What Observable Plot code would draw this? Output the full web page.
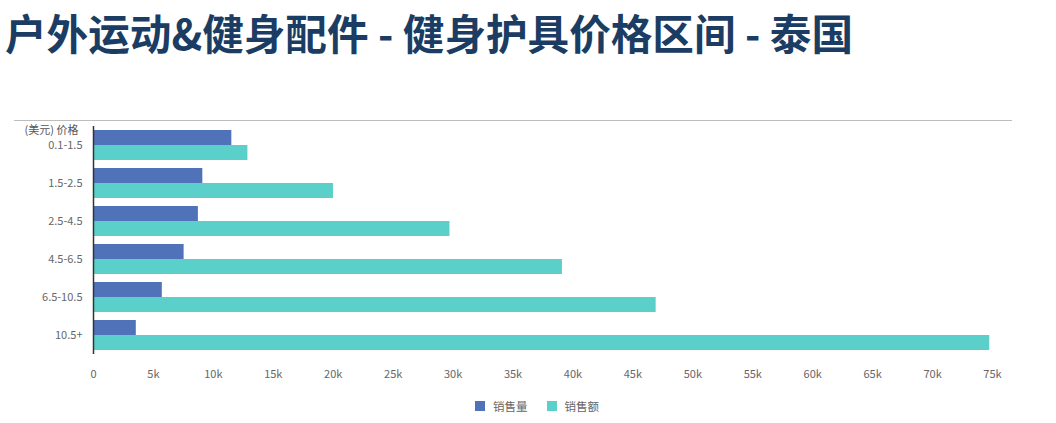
<!DOCTYPE html>
<html>
<head>
<meta charset="utf-8">
<script src="https://cdn.jsdelivr.net/npm/d3@7"></script>
<script src="https://cdn.jsdelivr.net/npm/@observablehq/plot@0.6"></script>
<style>
  html, body { margin: 0; padding: 0; background: #fff; }
  body { width: 1056px; height: 423px; position: relative; overflow: hidden;
         font-family: "Noto Sans CJK SC", "Noto Sans", sans-serif; }
  #title { position: absolute; left: 5px; top: 6px; font-size: 41.6px; font-weight: 700;
           color: #1b3d63; line-height: 52px; white-space: nowrap; letter-spacing: 0px; }
  #rule { position: absolute; left: 14px; top: 120px; width: 998px; height: 0;
          border-top: 1.5px solid #bdbdbd; }
  #chart { position: absolute; left: 0; top: 121px; }
  #legend { position: absolute; top: 398px; left: 0; width: 1074px; display: flex;
            justify-content: center; gap: 19px; font-size: 11.5px; color: #666; }
  .item { display: flex; align-items: center; gap: 8px; }
  .sw { width: 10px; height: 10px; display: inline-block; }
</style>
</head>
<body>
<div id="title"></div>
<div id="rule"></div>
<div id="chart"></div>
<div id="legend"></div>
<script>
const titleText = "户外运动&健身配件 - 健身护具价格区间 - 泰国";
const yAxisTitle = "(美元) 价格";
const priceRanges = ["0.1-1.5", "1.5-2.5", "2.5-4.5", "4.5-6.5", "6.5-10.5", "10.5+"];
const seriesNames = ["销售量", "销售额"];
const salesVolume = [11540, 9120, 8750, 7560, 5740, 3570];
const salesAmount = [12880, 20020, 29740, 39120, 46940, 74770];
const xTicks = [0, 5000, 10000, 15000, 20000, 25000, 30000, 35000, 40000, 45000, 50000, 55000, 60000, 65000, 70000, 75000];
const colors = ["#5072b8", "#5bcfc9"];

document.getElementById("title").textContent = titleText;

const volData = priceRanges.map((p, i) => ({price: p, value: salesVolume[i]}));
const amtData = priceRanges.map((p, i) => ({price: p, value: salesAmount[i]}));

const chart = Plot.plot({
  width: 1056,
  height: 265,
  marginLeft: 93,
  marginRight: 64,
  marginTop: 5,
  marginBottom: 32,
  style: {fontFamily: "'Noto Sans CJK SC', 'Noto Sans', sans-serif", fontSize: "11px", color: "#666", background: "#fff"},
  x: {domain: [0, 75000]},
  y: {domain: priceRanges, paddingInner: 0.21, paddingOuter: 0.105},
  marks: [
    Plot.barX(volData, {x: "value", y: "price", fill: colors[0], insetBottom: 15, insetTop: 0}),
    Plot.barX(amtData, {x: "value", y: "price", fill: colors[1], insetTop: 15, insetBottom: 0}),
    Plot.axisX({ticks: xTicks, tickSize: 0, tickPadding: 16, label: null,
                tickFormat: d => d === 0 ? "0" : (d / 1000) + "k", fill: "#666"}),
    Plot.axisY({tickSize: 0, tickPadding: 11, label: null, fill: "#666"}),
    Plot.ruleX([0], {stroke: "#333", strokeWidth: 1.5}),
    Plot.text([yAxisTitle], {frameAnchor: "top-left", dx: -15, dy: 4, textAnchor: "end",
                             lineAnchor: "middle", fill: "#555", fontSize: 11})
  ]
});
document.getElementById("chart").appendChild(chart);

const legend = document.getElementById("legend");
seriesNames.forEach((name, i) => {
  const item = document.createElement("div");
  item.className = "item";
  const sw = document.createElement("span");
  sw.className = "sw";
  sw.style.background = colors[i];
  const t = document.createElement("span");
  t.textContent = name;
  item.appendChild(sw);
  item.appendChild(t);
  legend.appendChild(item);
});
</script>
</body>
</html>
